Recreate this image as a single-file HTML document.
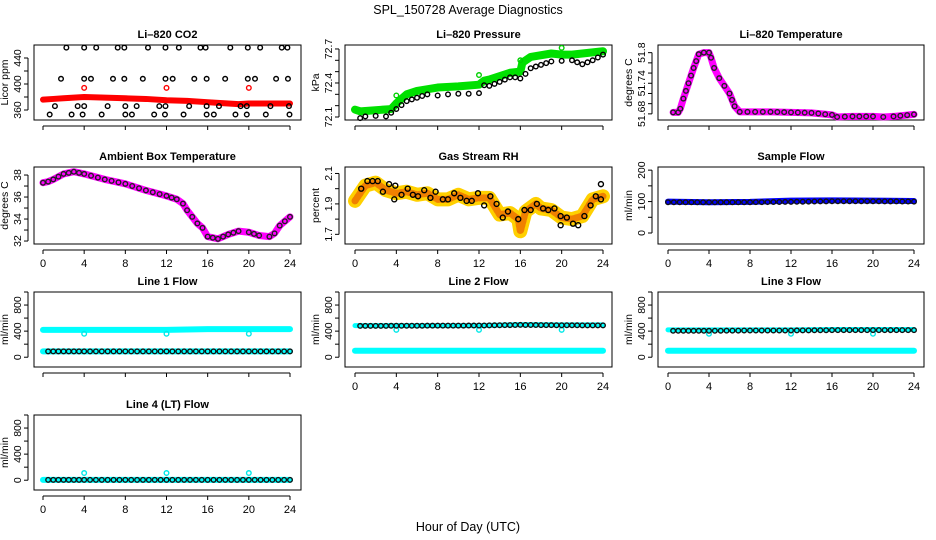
<!DOCTYPE html>
<html><head><meta charset="utf-8">
<style>
body{margin:0;background:#fff;}
svg{display:block;font-family:"Liberation Sans",Arial,sans-serif;}
</style></head>
<body>
<svg id="c" width="936" height="540" viewBox="0 0 936 540">
<text x="468" y="14" text-anchor="middle" font-size="12.5">SPL_150728  Average Diagnostics</text>
<text x="468" y="531" text-anchor="middle" font-size="12.5">Hour of Day (UTC)</text>
</svg>
<script>
// ---- data ----
const xTicks=[0,4,8,12,16,20,24];
// CO2
const co2Hours=[0,1,2,3,4,6,8,10,12,14,16,17,18,19,20,22,24];
const co2Red=[376,377,378,379,380,379,378,377,375,374,372,371,370,369,370,370,370];
const co2OutHours=[4,12,20];
const co2OutVals=[394,394,394];
const co2BlkHours=[2.27,4.0,5.17,7.26,7.9,10.2,11.9,13.2,15.3,15.8,18.2,19.9,21.1,23.2,23.75,
 1.75,4.0,4.66,6.8,7.9,9.7,11.9,12.6,14.7,15.9,17.7,19.9,20.6,22.65,23.8,
 1.16,3.37,4.0,6.28,8.0,9.1,11.3,11.9,14.2,15.9,17.1,19.2,19.8,22.1,23.9,
 0.65,2.78,3.85,5.7,8.0,8.64,10.8,11.85,13.66,15.9,16.6,18.7,19.8,21.65,23.95];
const co2BlkVals=[456,456,456,456,456,456,456,456,456,456,456,456,456,456,456,
 408,408,408,408,408,408,408,408,408,408,408,408,408,408,408,
 366,366,366,366,366,366,366,366,366,366,366,366,366,366,366,
 353,353,353,353,353,353,353,353,353,353,353,353,353,353,353];
// Pressure
const presHours=[0,0.5,3.5,4,5,6,8,10,12,12.5,13,15,16,16.2,17,19,20,21,23,24];
const presGreen=[72.165,72.15,72.17,72.22,72.30,72.33,72.36,72.37,72.385,72.42,72.43,72.49,72.5,72.58,72.63,72.66,72.65,72.65,72.67,72.68];
const presBlkHours=[0.5,1,2,3,4,5,6,7,8,9,10,11,12,12.5,13,14,15,15.5,16,16.5,17,18,19,20,21,22,23,24];
const presBlk=[72.09,72.105,72.11,72.105,72.17,72.24,72.27,72.30,72.29,72.30,72.305,72.305,72.31,72.38,72.375,72.41,72.45,72.45,72.44,72.48,72.53,72.56,72.59,72.595,72.6,72.565,72.6,72.65];
const presOutHours=[4,12,16,20];
const presOutVals=[72.29,72.47,72.6,72.71];
// Li-820 temperature
const tempHours=[0.5,1,1.2,1.5,2,2.5,3,3.5,4,4.2,4.5,5,5.5,6,6.5,7,10,12,14,16,16.5,18,20,21,22,24];
const tempVals=[51.683,51.683,51.69,51.71,51.74,51.77,51.797,51.80,51.80,51.79,51.77,51.75,51.735,51.72,51.695,51.684,51.684,51.683,51.682,51.678,51.674,51.675,51.675,51.674,51.675,51.679];
// Ambient
const ambHours=[0,0.5,1,2,3,4,6,8,10,12,13,13.6,14,15,15.5,16,17,18,19,20,21,22,22.5,23,24];
const ambVals=[37.3,37.4,37.6,38.1,38.3,38.1,37.6,37.2,36.6,36.1,35.8,35.4,34.8,33.6,33.2,32.4,32.2,32.6,32.9,32.8,32.5,32.4,32.7,33.4,34.2];
// Gas stream RH
const rhHours=[0,0.5,1,2,3,4,5,6,7,8,9,10,11,12,13,14,15,15.8,16,16.5,17.5,18,19,20,21,22,23,24];
const rhVals=[1.92,1.97,2.02,2.04,1.99,1.97,1.98,1.96,1.97,1.93,1.93,1.96,1.93,1.94,1.94,1.83,1.84,1.8,1.72,1.85,1.9,1.87,1.86,1.81,1.8,1.82,1.93,1.95];
const rhBlkHours=[0.6,1.2,1.7,2.2,2.7,3.3,3.9,3.8,4.5,5.1,5.6,6.1,6.7,7.3,7.8,8.5,9.0,9.6,10.2,10.8,11.3,11.9,12.5,13.1,13.7,14.3,14.8,15.8,16.4,17.0,17.6,18.2,18.7,19.3,19.9,19.9,20.5,21.1,21.6,22.2,22.8,23.3,23.8,23.8];
const rhBlkVals=[2.0,2.05,2.05,2.05,1.98,2.03,2.02,1.93,1.96,2.0,1.96,1.95,1.99,1.94,1.98,1.93,1.93,1.97,1.94,1.92,1.92,1.97,1.89,1.95,1.9,1.81,1.85,1.8,1.86,1.86,1.9,1.87,1.86,1.87,1.82,1.76,1.81,1.77,1.76,1.82,1.89,1.95,1.93,2.03];
// Sample flow
const sfHours=[0,4,8,12,16,20,24];
const sfBlue=[100,98,99,103,104,103,102];
const sfBlk=[98,98,98,99,101,101,100];
// Line flows (cyan = instantaneous, black = averages)
const flowHours=[0,4,8,12,16,20,24];
const l1CyanHi=[420,420,420,420,430,430,430];
const l1CyanLo=[90,90,90,90,90,90,90];
const l1Blk=[90,90,90,90,90,90,90];
const l2CyanHi=[485,485,485,485,500,495,495];
const l2CyanLo=[100,100,100,100,100,100,100];
const l2Blk=[480,482,484,486,495,490,488];
const l3CyanHi=[420,420,420,420,425,425,425];
const l3CyanLo=[100,100,100,100,100,100,100];
const l3Blk=[405,405,410,410,415,415,415];
const l4Cyan=[5,5,5,5,5,5,5];
const l4Blk=[5,5,5,5,5,5,5];
const flowOutHours=[4,12,20];
const l1Out=[360,360,360];
const l2Out=[420,420,420];
const l3Out=[360,360,360];
const l4Out=[110,110,110];

// ---- drawing ----
const svg=document.getElementById('c');
const NS='http://www.w3.org/2000/svg';
function mk(tag,attrs,parent){const e=document.createElementNS(NS,tag);for(const k in attrs)e.setAttribute(k,attrs[k]);(parent||svg).appendChild(e);return e;}
const cols=[{l:34,r:301,x0:43,x1:290},{l:345,r:612,x0:355,x1:603},{l:658,r:924,x0:668,x1:914}];
const rows=[{t:45,b:120},{t:167,b:244},{t:292,b:367},{t:415,b:490}];

function panel(name,title,ci,ri,ymin,ymax,yticks,ylabels,ylab,showX){
  const c=cols[ci],r=rows[ri];
  const g=mk('g',{});
  
  
  const sx=h=>c.x0+(c.x1-c.x0)*h/24;
  const sy=v=>r.b-(v-ymin)/(ymax-ymin)*(r.b-r.t);
  const t=mk('text',{x:(c.l+c.r)/2,y:r.t-7,'text-anchor':'middle','font-size':'11','font-weight':'bold'},g);
  t.textContent=title;
  
  
  const box=mk('rect',{x:c.l,y:r.t,width:c.r-c.l,height:r.b-r.t,fill:'none',stroke:'#000','stroke-width':1},g);
  
  
  const xa=mk('g',{},g);
  
  
  mk('line',{x1:sx(0),x2:sx(24),y1:r.b+6,y2:r.b+6,stroke:'#000'},xa);
  xTicks.forEach(h=>{
    mk('line',{x1:sx(h),x2:sx(h),y1:r.b+6,y2:r.b+10,stroke:'#000'},xa);
    if(showX){const tl=mk('text',{x:sx(h),y:r.b+23,'text-anchor':'middle','font-size':'11'},xa);tl.textContent=h;
      
      }
  });
  const ya=mk('g',{},g);
  
  
  mk('line',{x1:c.l-6,x2:c.l-6,y1:sy(yticks[0]),y2:sy(yticks[yticks.length-1]),stroke:'#000'},ya);
  yticks.forEach(v=>mk('line',{x1:c.l-10,x2:c.l-6,y1:sy(v),y2:sy(v),stroke:'#000'},ya));
  ylabels.forEach(v=>{const y=sy(v);const tl=mk('text',{x:c.l-13,y:y,'text-anchor':'middle','font-size':'10.5',transform:`rotate(-90 ${c.l-13} ${y})`},ya);tl.textContent=String(v);
    
    });
  const yt=mk('text',{x:c.l-26,y:(r.t+r.b)/2,'text-anchor':'middle','font-size':'10.5',transform:`rotate(-90 ${c.l-26} ${(r.t+r.b)/2})`},ya);
  yt.textContent=ylab;
  
  
  const clip='clip'+name;
  const cp=mk('clipPath',{id:clip},g);mk('rect',{x:c.l,y:r.t-3,width:c.r-c.l,height:r.b-r.t+6},cp);
  const pg=mk('g',{'clip-path':`url(#${clip})`},g);
  return {sx,sy,g:pg};
}
function band(P,hs,vs,color,w,nm){
  const pts=hs.map((h,i)=>P.sx(h)+','+P.sy(vs[i])).join(' ');
  const pl=mk('polyline',{points:pts,fill:'none',stroke:color,'stroke-width':w,'stroke-linejoin':'round','stroke-linecap':'round'},P.g);
  
  
  return pl;
}
function pts(P,hs,vs,color,nm,rad){
  hs.forEach((h,i)=>{const c=mk('circle',{cx:P.sx(h),cy:P.sy(vs[i]),r:rad||2.3,fill:'none',stroke:color,'stroke-width':1.4},P.g);
    
    });
}
function chain(P,hs,vs,color,nm,step){
  step=step||5.5;
  for(let i=0;i<hs.length-1;i++){
    const x1=P.sx(hs[i]),y1=P.sy(vs[i]),x2=P.sx(hs[i+1]),y2=P.sy(vs[i+1]);
    const L=Math.hypot(x2-x1,y2-y1);const n=Math.max(1,Math.round(L/step));
    for(let k=0;k<n;k++){const f=k/n;const c=mk('circle',{cx:x1+(x2-x1)*f,cy:y1+(y2-y1)*f,r:2.3,fill:'none',stroke:color,'stroke-width':1.4},P.g);
      
      }
  }
  const c=mk('circle',{cx:P.sx(hs[hs.length-1]),cy:P.sy(vs[vs.length-1]),r:2.3,fill:'none',stroke:color,'stroke-width':1.4},P.g);
  
  
}

let P=panel('co2-panel','Li\u2013820 CO2',0,0,344.6,460,[360,380,400,420,440],[360,400,440],'Licor ppm',false);
band(P,co2Hours,co2Red,'#ff0000',6,'co2-red-series');
pts(P,co2OutHours,co2OutVals,'#ff0000','co2-red-outlier');
pts(P,co2BlkHours,co2BlkVals,'#000','co2-black-point');
P=panel('pressure-panel','Li\u2013820 Pressure',1,0,72.0735,72.735,[72.1,72.2,72.3,72.4,72.5,72.6,72.7],[72.1,72.4,72.7],'kPa',false);
band(P,presHours,presGreen,'#00e000',8,'pressure-green-series');
pts(P,presOutHours,presOutVals,'#00d000','pressure-green-outlier');
chain(P,presBlkHours,presBlk,'#000','pressure-black-point',7);
P=panel('li820-temp-panel','Li\u2013820 Temperature',2,0,51.668,51.815,[51.68,51.70,51.72,51.74,51.76,51.78,51.80],[51.68,51.74,51.80],'degrees C',false);
band(P,tempHours,tempVals,'#ff00ff',7,'li820-temp-magenta-series');
chain(P,tempHours,tempVals,'#222','li820-temp-black-point',8);
P=panel('ambient-temp-panel','Ambient Box Temperature',0,1,31.73,38.73,[32,33,34,35,36,37,38],[32,34,36,38],'degrees C',true);
band(P,ambHours,ambVals,'#ff00ff',7,'ambient-magenta-series');
chain(P,ambHours,ambVals,'#222','ambient-black-point',7);
P=panel('rh-panel','Gas Stream RH',1,1,1.6365,2.1425,[1.7,1.8,1.9,2.0,2.1],[1.7,1.9,2.1],'percent',true);
band(P,rhHours,rhVals,'#ffd000',14,'rh-yellow-series');
band(P,rhHours,rhVals,'#f08000',7,'rh-orange-series').setAttribute('stroke-dasharray','2 2');
pts(P,rhBlkHours,rhBlkVals,'#000','rh-black-point',2.5);
P=panel('sample-flow-panel','Sample Flow',2,1,-35,210,[0,50,100,150,200],[0,100,200],'ml/min',true);
band(P,sfHours,sfBlue,'#0000ff',6,'sample-flow-blue-series');
chain(P,sfHours,sfBlk,'#111','sample-flow-black-point');
const fT=[0,200,400,600,800,1000],fL=[0,400,800];
P=panel('line1-flow-panel','Line 1 Flow',0,2,-150,1000,fT,fL,'ml/min',false);
band(P,flowHours,l1CyanHi,'#00ffff',6,'line1-cyan-high');
band(P,flowHours,l1CyanLo,'#00ffff',6,'line1-cyan-low');
pts(P,flowOutHours,l1Out,'#00e8e8','line1-cyan-outlier');
chain(P,flowHours.map(h=>Math.max(h,0.5)),l1Blk,'#111','line1-black-point');
P=panel('line2-flow-panel','Line 2 Flow',1,2,-150,1000,fT,fL,'ml/min',true);
band(P,flowHours,l2CyanLo,'#00ffff',6,'line2-cyan-low');
band(P,flowHours,l2CyanHi,'#00ffff',5,'line2-cyan-high');
pts(P,flowOutHours,l2Out,'#00e8e8','line2-cyan-outlier');
chain(P,flowHours.map(h=>Math.max(h,0.5)),l2Blk,'#111','line2-black-point');
P=panel('line3-flow-panel','Line 3 Flow',2,2,-150,1000,fT,fL,'ml/min',true);
band(P,flowHours,l3CyanLo,'#00ffff',6,'line3-cyan-low');
band(P,flowHours,l3CyanHi,'#00ffff',5,'line3-cyan-high');
pts(P,flowOutHours,l3Out,'#00e8e8','line3-cyan-outlier');
chain(P,flowHours.map(h=>Math.max(h,0.5)),l3Blk,'#111','line3-black-point');
P=panel('line4-flow-panel','Line 4 (LT) Flow',0,3,-150,1000,fT,fL,'ml/min',true);
band(P,flowHours,l4Cyan,'#00ffff',6,'line4-cyan-series');
chain(P,flowHours.map(h=>Math.max(h,0.5)),l4Blk,'#111','line4-black-point');
pts(P,flowOutHours,l4Out,'#00e8e8','line4-cyan-outlier');
</script>
</body></html>
